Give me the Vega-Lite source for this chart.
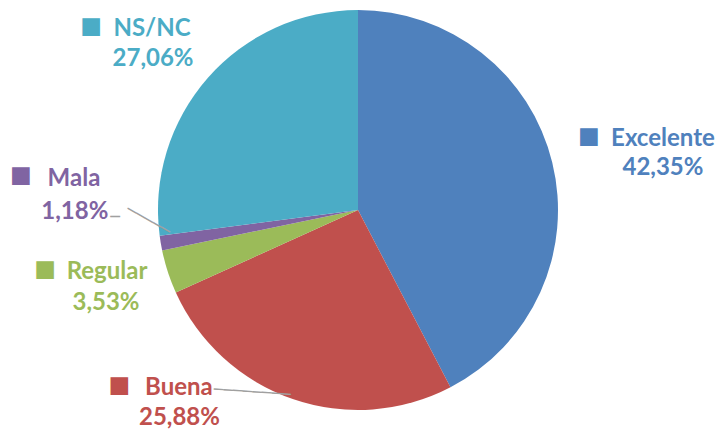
{
  "$schema": "https://vega.github.io/schema/vega-lite/v6.json",
  "width": 716,
  "height": 420,
  "autosize": "none",
  "padding": {"left": 0, "top": 0, "right": 5, "bottom": 13},
  "background": "white",
  "view": {"stroke": null},
  "data": {"values": [
    {"cat": "Excelente", "value": 42.35, "label": "42,35%", "order": 1},
    {"cat": "Buena", "value": 25.88, "label": "25,88%", "order": 2},
    {"cat": "Regular", "value": 3.53, "label": "3,53%", "order": 3},
    {"cat": "Mala", "value": 1.18, "label": "1,18%", "order": 4},
    {"cat": "NS/NC", "value": 27.06, "label": "27,06%", "order": 5}
  ]},
  "encoding": {
    "theta": {"field": "value", "type": "quantitative", "stack": true},
    "order": {"field": "order", "type": "quantitative"},
    "color": {"field": "cat", "type": "nominal", "legend": null,
      "scale": {"domain": ["Excelente", "Buena", "Regular", "Mala", "NS/NC"],
                "range": ["#4F81BD", "#C0504D", "#9BBB59", "#8064A2", "#4BACC6"]}}
  },
  "layer": [
    {"mark": {"type": "arc", "outerRadius": 200}},

    {"mark": {"type": "text", "radius": 200, "dx": -40.8, "dy": -4.1, "angle": 3.9, "font": "DejaVu Sans Mono", "fontWeight": "bold", "fontSize": 16},
     "encoding": {"color": {"value": "#A0A0A0"}, "text": {"condition": {"test": "datum.cat === 'Buena'", "value": "────────"}, "value": ""}}},
    {"mark": {"type": "text", "radius": 200, "dx": -21.8, "dy": -13.6, "angle": 29.6, "font": "DejaVu Sans Mono", "fontWeight": "bold", "fontSize": 16},
     "encoding": {"color": {"value": "#A0A0A0"}, "text": {"condition": {"test": "datum.cat === 'Mala'", "value": "─────"}, "value": ""}}},
    {"mark": {"type": "text", "radius": 200, "dx": -45.8, "dy": -26.1, "font": "DejaVu Sans Mono", "fontWeight": "bold", "fontSize": 16},
     "encoding": {"color": {"value": "#A0A0A0"}, "text": {"condition": {"test": "datum.cat === 'Mala'", "value": "─"}, "value": ""}}},

    {"mark": {"type": "text", "radius": 200, "dx": 36.7, "dy": -25.9, "font": "DejaVu Sans", "fontSize": 23, "baseline": "middle"},
     "encoding": {"text": {"condition": {"test": "datum.cat === 'Excelente'", "value": "■"}, "value": ""}}},
    {"mark": {"type": "text", "radius": 200, "dx": 110.7, "dy": -22.9, "font": "Lato", "fontWeight": "bold", "fontSize": 24, "baseline": "middle"},
     "encoding": {"text": {"condition": {"test": "datum.cat === 'Excelente'", "field": "cat"}, "value": ""}}},
    {"mark": {"type": "text", "radius": 200, "dx": 110.7, "dy": 6.1, "font": "Lato", "fontWeight": "bold", "fontSize": 24, "baseline": "middle"},
     "encoding": {"text": {"condition": {"test": "datum.cat === 'Excelente'", "field": "label"}, "value": ""}}},

    {"mark": {"type": "text", "radius": 200, "dx": -173.3, "dy": -14.1, "font": "DejaVu Sans", "fontSize": 23, "baseline": "middle"},
     "encoding": {"text": {"condition": {"test": "datum.cat === 'Buena'", "value": "■"}, "value": ""}}},
    {"mark": {"type": "text", "radius": 200, "dx": -113.8, "dy": -11.1, "font": "Lato", "fontWeight": "bold", "fontSize": 24, "baseline": "middle"},
     "encoding": {"text": {"condition": {"test": "datum.cat === 'Buena'", "field": "cat"}, "value": ""}}},
    {"mark": {"type": "text", "radius": 200, "dx": -113.3, "dy": 19.4, "font": "Lato", "fontWeight": "bold", "fontSize": 24, "baseline": "middle"},
     "encoding": {"text": {"condition": {"test": "datum.cat === 'Buena'", "field": "label"}, "value": ""}}},

    {"mark": {"type": "text", "radius": 200, "dx": -122.8, "dy": -3.3, "font": "DejaVu Sans", "fontSize": 23, "baseline": "middle"},
     "encoding": {"text": {"condition": {"test": "datum.cat === 'Regular'", "value": "■"}, "value": ""}}},
    {"mark": {"type": "text", "radius": 200, "dx": -60.8, "dy": 0.2, "font": "Lato", "fontWeight": "bold", "fontSize": 24, "baseline": "middle"},
     "encoding": {"text": {"condition": {"test": "datum.cat === 'Regular'", "field": "cat"}, "value": ""}}},
    {"mark": {"type": "text", "radius": 200, "dx": -61.8, "dy": 31.2, "font": "Lato", "fontWeight": "bold", "fontSize": 24, "baseline": "middle"},
     "encoding": {"text": {"condition": {"test": "datum.cat === 'Regular'", "field": "label"}, "value": ""}}},

    {"mark": {"type": "text", "radius": 200, "dx": -139.8, "dy": -68, "font": "DejaVu Sans", "fontSize": 23, "baseline": "middle"},
     "encoding": {"text": {"condition": {"test": "datum.cat === 'Mala'", "value": "■"}, "value": ""}}},
    {"mark": {"type": "text", "radius": 200, "dx": -86.8, "dy": -64.6, "font": "Lato", "fontWeight": "bold", "fontSize": 24, "baseline": "middle"},
     "encoding": {"text": {"condition": {"test": "datum.cat === 'Mala'", "field": "cat"}, "value": ""}}},
    {"mark": {"type": "text", "radius": 200, "dx": -86, "dy": -31.6, "font": "Lato", "fontWeight": "bold", "fontSize": 24, "baseline": "middle"},
     "encoding": {"text": {"condition": {"test": "datum.cat === 'Mala'", "field": "label"}, "value": ""}}},

    {"mark": {"type": "text", "radius": 200, "dx": -116.7, "dy": -52, "font": "DejaVu Sans", "fontSize": 23, "baseline": "middle"},
     "encoding": {"text": {"condition": {"test": "datum.cat === 'NS/NC'", "value": "■"}, "value": ""}}},
    {"mark": {"type": "text", "radius": 200, "dx": -55.7, "dy": -49.5, "font": "Lato", "fontWeight": "bold", "fontSize": 24, "baseline": "middle"},
     "encoding": {"text": {"condition": {"test": "datum.cat === 'NS/NC'", "field": "cat"}, "value": ""}}},
    {"mark": {"type": "text", "radius": 200, "dx": -54.7, "dy": -19, "font": "Lato", "fontWeight": "bold", "fontSize": 24, "baseline": "middle"},
     "encoding": {"text": {"condition": {"test": "datum.cat === 'NS/NC'", "field": "label"}, "value": ""}}}
  ]
}
